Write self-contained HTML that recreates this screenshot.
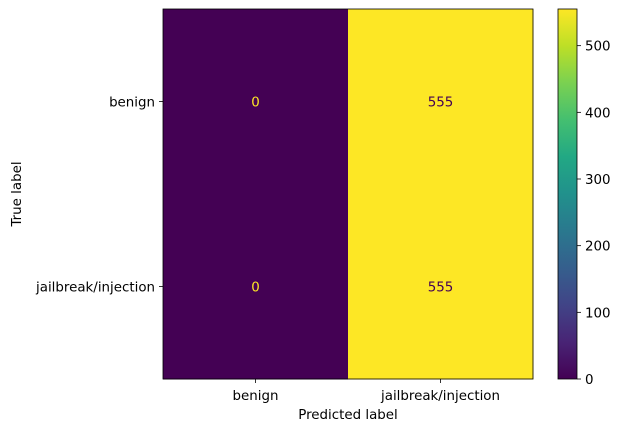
<!DOCTYPE html>
<html><head><meta charset="utf-8"><style>
body{margin:0;background:#fff;}
svg{display:block;font-family:"DejaVu Sans","Liberation Sans",sans-serif;}
</style></head><body>
<svg id="chart" width="622" height="432" viewBox="0 0 622 432">
<defs>
<linearGradient id="viridis" x1="0" y1="1" x2="0" y2="0">
<stop offset="0" stop-color="#440154"/><stop offset="0.1" stop-color="#482475"/><stop offset="0.2" stop-color="#414487"/><stop offset="0.3" stop-color="#355f8d"/><stop offset="0.4" stop-color="#2a788e"/><stop offset="0.5" stop-color="#21918c"/><stop offset="0.6" stop-color="#22a884"/><stop offset="0.7" stop-color="#44bf70"/><stop offset="0.8" stop-color="#7ad151"/><stop offset="0.9" stop-color="#bddf26"/><stop offset="1" stop-color="#fde725"/>
</linearGradient>
</defs>
<g id="cells"></g>
<rect x="558" y="9" width="19" height="370" fill="url(#viridis)" stroke="#000" stroke-width="0.8"/>
<g id="axes"></g>
<text x="348" y="419" font-size="13.4" text-anchor="middle">Predicted label</text>
<text transform="translate(21,194) rotate(-90)" font-size="13.4" text-anchor="middle">True label</text>
</svg>
<script>
const labels = ["benign","jailbreak/injection"];
const matrix = [[0,555],[0,555]];
const cbTicks = [0,100,200,300,400,500];
const cbMax = 555;

const NS="http://www.w3.org/2000/svg";
const FS=13.4;
const L=163,R=533,T=9,B=379;
const cw=(R-L)/labels.length, ch=(B-T)/labels.length;
const stops=[[68,1,84],[72,36,117],[65,68,135],[53,95,141],[42,120,142],[33,145,140],[34,168,132],[68,191,112],[122,209,81],[189,223,38],[253,231,37]];
function viridis(t){t=Math.max(0,Math.min(1,t));const p=t*10,i=Math.min(9,Math.floor(p)),f=p-i;const a=stops[i],b=stops[i+1];return `rgb(${a.map((v,k)=>Math.round(v+(b[k]-v)*f)).join(',')})`;}
function mk(tag,attrs,parent){const e=document.createElementNS(NS,tag);for(const k in attrs)e.setAttribute(k,attrs[k]);parent.appendChild(e);return e;}
const cells=document.getElementById('cells'),axes=document.getElementById('axes');
matrix.forEach((row,r)=>row.forEach((v,c)=>{
  const rc=mk('rect',{x:L+c*cw,y:T+r*ch,width:cw+0.5,height:ch+0.5,fill:viridis(v/cbMax)},cells);
  
  
  const t=mk('text',{x:L+(c+0.5)*cw,y:T+(r+0.5)*ch+5,'font-size':FS,'text-anchor':'middle',fill:v/cbMax<0.5?'#fde725':'#440154'},cells);
  
  
  t.textContent=v;
}));
const fr=mk('rect',{x:L,y:T,width:R-L,height:B-T,fill:'none',stroke:'#000','stroke-width':0.8},axes);


labels.forEach((lb,i)=>{
  const x=L+(i+0.5)*cw;
  mk('line',{x1:x,x2:x,y1:B,y2:B+4,stroke:'#000','stroke-width':0.8},axes);
  const tx=mk('text',{x:x,y:B+21,'font-size':FS,'text-anchor':'middle'},axes);
  
  
  tx.textContent=lb;
  const y=T+(i+0.5)*ch;
  mk('line',{x1:L-4,x2:L,y1:y,y2:y,stroke:'#000','stroke-width':0.8},axes);
  const ty=mk('text',{x:L-8,y:y+5,'font-size':FS,'text-anchor':'end'},axes);
  
  
  ty.textContent=lb;
});
cbTicks.forEach(v=>{
  const y=B-(v/cbMax)*(B-T);
  mk('line',{x1:577,x2:581,y1:y,y2:y,stroke:'#000','stroke-width':0.8},axes);
  const t=mk('text',{x:585,y:y+5,'font-size':FS},axes);
  
  
  t.textContent=v;
});
</script>
</body></html>
